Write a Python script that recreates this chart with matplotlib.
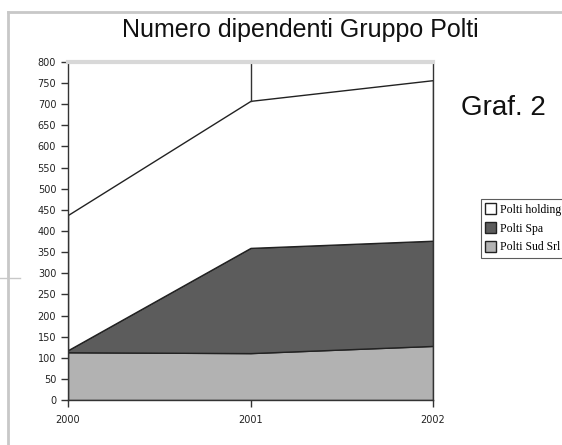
import matplotlib.pyplot as plt
from matplotlib.lines import Line2D

years = [2000, 2001, 2002]
sud_srl = [113, 111, 128]
spa = [5, 249, 249]
holding = [320, 348, 380]
series_names = ['Polti holding', 'Polti Spa', 'Polti Sud Srl']
y_ticks = list(range(0, 801, 50))


def main():
    fig = plt.figure(figsize=(5.62, 4.45), dpi=100)
    ax = fig.add_axes([0.121, 0.1011, 0.6495, 0.7596])

    stacks = ax.stackplot(years, sud_srl, spa, holding,
                          colors=['#b2b2b2', '#5c5c5c', '#ffffff'],
                          edgecolor='#222222', linewidth=1.0)

    # drop line at the middle year, like the original
    top_2001 = sud_srl[1] + spa[1] + holding[1]
    ax.plot([years[1], years[1]], [top_2001, 800], color='#333333', lw=1.0)

    ax.set_xlim(years[0], years[-1])
    ax.set_ylim(0, 800)
    ax.set_yticks(y_ticks)
    ax.set_xticks(years)
    ax.set_xticklabels([str(y) for y in years])
    ax.tick_params(axis='both', labelsize=7, length=5, width=1, color='#333333',
                   labelcolor='#222222')
    ax.tick_params(axis='x', pad=6)
    for side in ['left', 'bottom', 'right']:
        ax.spines[side].set_color('#333333')
        ax.spines[side].set_linewidth(1.0)
    ax.spines['top'].set_color('#d8d8d8')
    ax.spines['top'].set_linewidth(3)

    fig.text(0.535, 0.932, 'Numero dipendenti Gruppo Polti',
             ha='center', va='center', fontsize=18,
             family=['Liberation Sans Narrow', 'Liberation Sans'], color='#111111')
    fig.text(0.895, 0.757, 'Graf. 2', ha='center', va='center', fontsize=20,
             family=['Liberation Sans', 'DejaVu Sans'], color='#111111')

    # legend order: holding, Spa, Sud Srl
    handles = [stacks[2], stacks[1], stacks[0]]
    leg = fig.legend(handles, series_names, loc='upper left',
                     bbox_to_anchor=(0.855, 0.552),
                     prop={'family': 'Liberation Serif', 'size': 8.5},
                     frameon=True, fancybox=False, borderpad=0.35,
                     handlelength=1.0, handleheight=1.0, handletextpad=0.3,
                     labelspacing=0.55, borderaxespad=0)
    leg.get_frame().set_edgecolor('#333333')
    leg.get_frame().set_linewidth(0.8)

    # page frame fragments around the chart
    fig.add_artist(Line2D([0.014, 0.014], [0.0, 0.973], color='#c8c8c8', lw=2))
    fig.add_artist(Line2D([0.014, 1.0], [0.973, 0.973], color='#c8c8c8', lw=2))
    fig.add_artist(Line2D([0.0, 0.036], [0.375, 0.375], color='#c8c8c8', lw=1))

    fig.savefig('out.png', dpi=100)


if __name__ == "__main__":
    main()
